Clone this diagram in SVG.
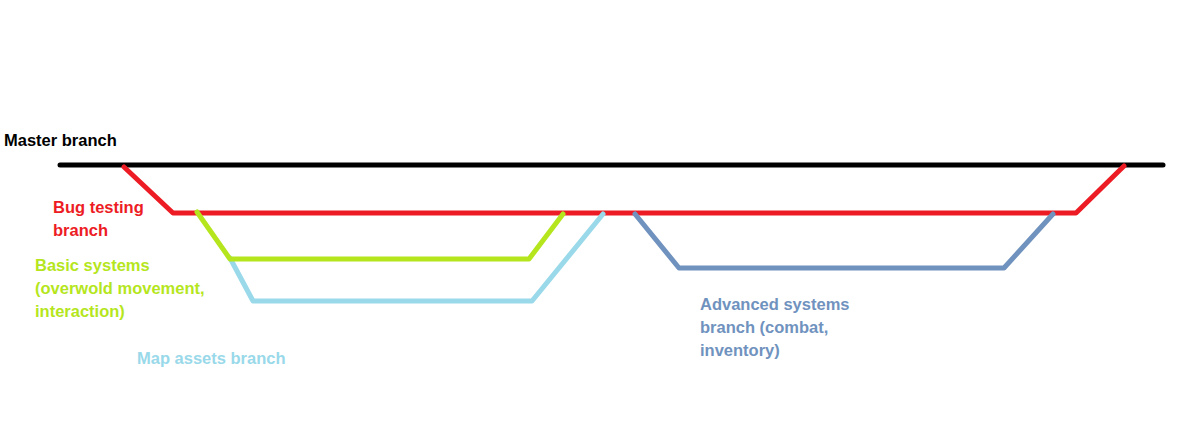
<svg xmlns="http://www.w3.org/2000/svg" width="1186" height="430" viewBox="0 0 1186 430">
<style>
.ln{fill:none;stroke-width:5;stroke-linecap:round;stroke-linejoin:round}
.t{font-family:"Liberation Sans",Arial,sans-serif;font-weight:bold;font-size:16.5px}
</style>
<rect width="1186" height="430" fill="#fff"/>
<g id="connectors">
<path class="ln" stroke="#000" d="M60 165 H1163"/>
<path class="ln" stroke="#ED1C24" d="M124 167 L173 213 H1076 L1124 166"/>
<path class="ln" stroke="#99D9EA" d="M230 258 L253 301 H532 L603 214"/>
<path class="ln" stroke="#B5E61D" d="M197 212 L230 259 H529 L563 214"/>
<path class="ln" stroke="#7092BE" d="M635 214 L679 268 H1004 L1053 214"/>
</g>
<g id="master"><text class="t" x="4" y="146" fill="#000">Master branch</text></g>
<g id="bugtesting"><text class="t" x="53" y="213" fill="#ED1C24"><tspan x="53">Bug testing</tspan><tspan x="53" dy="23">branch</tspan></text></g>
<g id="basic"><text class="t" x="35" y="271" fill="#B5E61D"><tspan x="35">Basic systems</tspan><tspan x="35" dy="23">(overwold movement,</tspan><tspan x="35" dy="23">interaction)</tspan></text></g>
<g id="map"><text class="t" x="137" y="364" fill="#99D9EA">Map assets branch</text></g>
<g id="advanced"><text class="t" x="700" y="310" fill="#7092BE"><tspan x="700">Advanced systems</tspan><tspan x="700" dy="23">branch (combat,</tspan><tspan x="700" dy="23">inventory)</tspan></text></g>
</svg>
